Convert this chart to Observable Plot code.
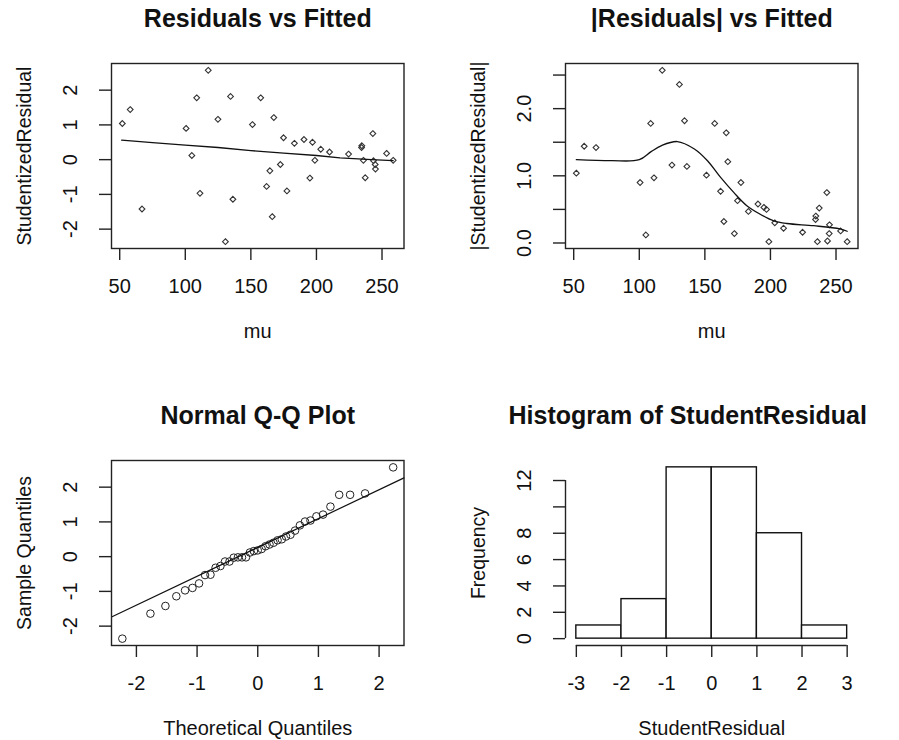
<!DOCTYPE html>
<html><head><meta charset="utf-8">
<script src="https://cdn.jsdelivr.net/npm/d3@7"></script>
<script src="https://cdn.jsdelivr.net/npm/@observablehq/plot@0.6"></script>
<style>
body{margin:0;background:#fff;}
#root{position:relative;width:899px;height:740px;overflow:hidden;background:#fff;}
.panel{position:absolute;}
</style></head><body><div id="root"></div>
<script>
// ---- data ----
const fitted = [52,58,67,100.6,105,108.7,111.2,117.5,124.9,130.6,134.5,136.3,151.2,157.5,162,164.5,166.3,167.5,172.5,174.9,177.5,183.2,190.5,195,197,198.8,203.3,210,224.5,234.6,234.4,235.8,237.2,243,243.5,244.8,245,253.5,258.5];
const studentResidual = [1.04,1.44,-1.42,0.9,0.12,1.78,-0.97,2.57,1.16,-2.36,1.82,-1.14,1.01,1.78,-0.77,-0.32,-1.64,1.21,-0.14,0.63,-0.9,0.47,0.58,-0.53,0.5,-0.02,0.3,0.22,0.16,0.4,0.35,-0.02,-0.52,0.75,-0.03,-0.14,-0.27,0.18,-0.02];
const smoothFitX = [51.5,75,100,125,150,175,200,218,242,258.5];
const smoothFitY = [0.56,0.49,0.42,0.35,0.26,0.19,0.12,0.05,0.0,-0.03];
const smoothAbsX = [52,79,100,109,117,129,142,152,162,172,182,192,202.5,212.6,233,253,258.5];
const smoothAbsY = [1.24,1.225,1.24,1.36,1.45,1.51,1.40,1.225,0.976,0.753,0.555,0.43,0.33,0.29,0.257,0.21,0.175];
const theoreticalQuantiles = [-2.232,-1.769,-1.522,-1.342,-1.198,-1.076,-0.967,-0.869,-0.779,-0.695,-0.615,-0.539,-0.466,-0.396,-0.327,-0.260,-0.194,-0.129,-0.064,0,0.064,0.129,0.194,0.260,0.327,0.396,0.466,0.539,0.615,0.695,0.779,0.869,0.967,1.076,1.198,1.342,1.522,1.769,2.232];
const qnorm75 = 0.6745;
const histBreaks = [-3,-2,-1,0,1,2,3];
const histCounts = [1,3,13,13,8,1];
const muTicks = [50,100,150,200,250];
const residTicks = [-2,-1,0,1,2];
const absTicks = [0,0.5,1,1.5,2,2.5];
const absTickLabels = ["0.0","","1.0","","2.0",""];
const qqXTicks = [-2,-1,0,1,2];
const histXTicks = [-3,-2,-1,0,1,2,3];
const histYTicks = [0,2,4,6,8,10,12];
const histYTickLabels = ["0","2","4","6","8","","12"];

// ---- layout / style ----
const FONT = "'Liberation Sans', Arial, sans-serif";
const W = 445, ML = 111, MR = 41.5, MT = 63, BOX_BOTTOM = 248;
const AX = 20, YL = 19.5, TT = 25, INK = "#111";
const rPad = ([a, b]) => { const d = (b - a) * 0.04; return [a - d, b + d]; };

function panel({title, xlab, ylab, xDomain, yDomain, xTicks, yTicks, yLabels, marks, frame = true, height, titleDx = 0}) {
  const yl = yLabels || yTicks.map(String);
  return Plot.plot({
    width: W, height, marginLeft: ML, marginRight: MR, marginTop: MT, marginBottom: height - BOX_BOTTOM,
    x: {domain: xDomain, axis: null}, y: {domain: yDomain, axis: null},
    style: {fontFamily: FONT, color: INK, background: "white", overflow: "visible"},
    marks: [
      ...marks,
      frame ? Plot.frame({stroke: "#222", strokeWidth: 1.4}) : null,
      Plot.axisX({ticks: xTicks, tickSize: 12, tickPadding: 18, tickFormat: d => String(d), fontSize: AX, label: null, strokeWidth: 1.4, stroke: "#222", fill: INK}),
      Plot.axisY({ticks: yTicks, tickSize: 12, tickFormat: () => "", label: null, strokeWidth: 1.4, stroke: "#222"}),
      Plot.text(yTicks.map((t, i) => ({t, s: yl[i]})), {y: "t", text: "s", frameAnchor: "left", dx: -35, rotate: -90, lineAnchor: "bottom", textAnchor: "middle", fontSize: AX, fill: INK}),
      Plot.text([xlab], {frameAnchor: "bottom", dy: 89, lineAnchor: "bottom", textAnchor: "middle", fontSize: AX, fill: INK}),
      Plot.text([ylab], {frameAnchor: "left", dx: -81, rotate: -90, lineAnchor: "bottom", textAnchor: "middle", fontSize: YL, fill: INK}),
      Plot.text([title], {frameAnchor: "top", dx: titleDx, dy: -37, lineAnchor: "bottom", textAnchor: "middle", fontSize: TT, fontWeight: "bold", fill: INK, letterSpacing: "1.6px"})
    ]
  });
}

const pts = fitted.map((x, i) => ({x, y: studentResidual[i]}));
const sorted = studentResidual.slice().sort(d3.ascending);
const qq = theoreticalQuantiles.map((x, i) => ({x, y: sorted[i]}));
const q1 = d3.quantile(sorted, 0.25), q3 = d3.quantile(sorted, 0.75);
const slope = (q3 - q1) / (2 * qnorm75), intercept = q3 - slope * qnorm75;

const muDomain = rPad(d3.extent(fitted));
const resDomain = rPad(d3.extent(studentResidual));
const absDomain = rPad(d3.extent(studentResidual, Math.abs));
const qqXDomain = rPad(d3.extent(theoreticalQuantiles));
const histXDomain = rPad(d3.extent(histBreaks));
const histYDomain = rPad([0, d3.max(histCounts)]);

const dotStyle = {symbol: "diamond2", r: 2.6, stroke: "#333", strokeWidth: 1.1, fill: "none"};

const p1 = panel({
  title: "Residuals vs Fitted", xlab: "mu", ylab: "StudentizedResidual", height: 397,
  xDomain: muDomain, yDomain: resDomain, xTicks: muTicks, yTicks: residTicks,
  marks: [
    Plot.dot(pts, {x: "x", y: "y", ...dotStyle}),
    Plot.line(smoothFitX.map((x, i) => ({x, y: smoothFitY[i]})), {x: "x", y: "y", stroke: "#111", strokeWidth: 1.3})
  ]
});
const p2 = panel({
  title: "|Residuals| vs Fitted", xlab: "mu", ylab: "|StudentizedResidual|", height: 397,
  xDomain: muDomain, yDomain: absDomain, xTicks: muTicks, yTicks: absTicks, yLabels: absTickLabels,
  marks: [
    Plot.dot(pts, {x: "x", y: d => Math.abs(d.y), ...dotStyle}),
    Plot.line(smoothAbsX.map((x, i) => ({x, y: smoothAbsY[i]})), {x: "x", y: "y", stroke: "#111", strokeWidth: 1.3, curve: "catmull-rom"})
  ]
});
const p3 = panel({
  title: "Normal Q-Q Plot", xlab: "Theoretical Quantiles", ylab: "Sample Quantiles", height: 343,
  xDomain: qqXDomain, yDomain: resDomain, xTicks: qqXTicks, yTicks: residTicks,
  marks: [
    Plot.dot(qq, {x: "x", y: "y", r: 3.8, stroke: "#222", strokeWidth: 1, fill: "none"}),
    Plot.line(qqXDomain.map(x => ({x, y: intercept + slope * x})), {x: "x", y: "y", stroke: "#111", strokeWidth: 1.2})
  ]
});
const bins = histCounts.map((c, i) => ({x1: histBreaks[i], x2: histBreaks[i + 1], c}));
const p4 = panel({
  title: "Histogram of StudentResidual", xlab: "StudentResidual", ylab: "Frequency", height: 343, frame: false, titleDx: -24,
  xDomain: histXDomain, yDomain: histYDomain, xTicks: histXTicks, yTicks: histYTicks, yLabels: histYTickLabels,
  marks: [
    Plot.rectY(bins, {x1: "x1", x2: "x2", y: "c", fill: "white", stroke: "#111", strokeWidth: 1.4}),
    Plot.ruleY([histYDomain[0]], {x1: histXTicks[0], x2: histXTicks[histXTicks.length - 1], stroke: "#222", strokeWidth: 1.4}),
    Plot.ruleX([histXDomain[0]], {y1: histYTicks[0], y2: histYTicks[histYTicks.length - 1], stroke: "#222", strokeWidth: 1.4})
  ]
});

const root = document.getElementById("root");
[[p1, 0, 0], [p2, 454, 0], [p3, 0, 397], [p4, 454, 397]].forEach(([el, l, t]) => {
  const d = document.createElement("div");
  d.className = "panel"; d.style.left = l + "px"; d.style.top = t + "px";
  d.appendChild(el); root.appendChild(d);
});
</script></body></html>
